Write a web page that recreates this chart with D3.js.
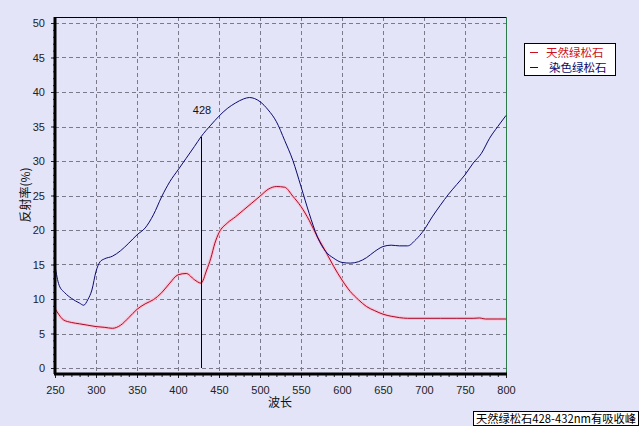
<!DOCTYPE html>
<html><head><meta charset="utf-8">
<script src="https://cdn.jsdelivr.net/npm/d3@7"></script>
<style>
html,body{margin:0;padding:0;background:#e4e4f9;}
svg{display:block;}
</style></head>
<body>
<svg id="c" width="639" height="426"></svg>
<script>
const seriesNames = ["天然绿松石", "染色绿松石"];
const naturalWl = [250,255,260,270,280,290,300,310,320,330,340,350,360,370,380,390,400,410,420,428,435,440,445,450,460,470,480,490,500,510,520,530,540,550,560,570,580,590,600,610,620,630,640,650,660,670,680,700,720,740,760,768,772,775,790,800];
const naturalVal = [8.6,7.7,7.0,6.6,6.4,6.2,6.0,5.9,5.75,6.2,7.3,8.5,9.3,9.9,10.9,12.3,13.5,13.7,12.8,12.3,14.2,15.9,18.1,19.6,21.0,21.9,22.9,23.9,24.9,25.9,26.3,26.2,24.9,23.4,21.4,19.0,16.9,14.7,12.75,11.1,9.9,8.9,8.3,7.8,7.5,7.3,7.2,7.2,7.2,7.2,7.2,7.25,7.15,7.1,7.1,7.1];
const dyedWl = [250,255,262,270,280,285,290,295,300,305,310,320,330,340,350,360,370,380,390,400,410,420,428,440,450,460,470,480,487,500,510,520,530,540,550,560,570,580,590,600,610,620,630,640,650,660,670,680,690,700,710,720,730,740,750,760,770,780,790,800];
const dyedVal = [14.8,12.0,10.9,10.1,9.4,9.1,9.9,11.3,14.0,15.4,15.8,16.2,17.0,18.1,19.3,20.3,22.2,24.8,27.0,28.7,30.4,32.1,33.5,35.2,36.5,37.6,38.4,39.0,39.2,38.6,37.4,35.7,33.0,30.1,26.3,22.4,19.0,16.9,15.9,15.3,15.2,15.4,16.0,16.9,17.6,17.8,17.7,17.7,18.6,20.0,21.9,23.6,25.2,26.6,28.0,29.7,31.1,33.3,35.0,36.6];
const xTicks = [250,300,350,400,450,500,550,600,650,700,750,800];
const yTicks = [0,5,10,15,20,25,30,35,40,45,50];
const markerWl = 428;
const markerVal = 33.5;
const xLabel = "波长";
const yLabel = "反射率(%)";
const note = "天然绿松石428-432nm有吸收峰";

const svg = d3.select("#c");
const L = 55, R = 506, T = 17, B = 374;
const x = d3.scaleLinear().domain([250, 800]).range([L, R]);
const y = d3.scaleLinear().domain([0, 50]).range([368, 23]);

svg.append("rect").attr("width",639).attr("height",426).attr("fill","#e4e4f9");

// grid
const g = svg.append("g");
g.selectAll("line.h").data(yTicks).join("line")
  .attr("x1", L).attr("x2", R).attr("y1", d=>Math.round(y(d))+0.5).attr("y2", d=>Math.round(y(d))+0.5)
  .attr("stroke","#7a7a8a").attr("stroke-dasharray","4,3");
g.selectAll("line.v").data(xTicks.slice(1,-1)).join("line")
  .attr("y1", T).attr("y2", B).attr("x1", d=>Math.round(x(d))+0.5).attr("x2", d=>Math.round(x(d))+0.5)
  .attr("stroke","#7a7a8a").attr("stroke-dasharray","4,3");

// borders
svg.append("line").attr("x1",L).attr("x2",R).attr("y1",T+0.5).attr("y2",T+0.5).attr("stroke","#000");
svg.append("line").attr("x1",R+0.5).attr("x2",R+0.5).attr("y1",T).attr("y2",B).attr("stroke","#2a7a4a");

// lines
const lineGen = d3.line().x(d=>x(d[0])).y(d=>y(d[1])).curve(d3.curveMonotoneX);
const nat = naturalWl.map((w,i)=>[w,naturalVal[i]]);
const dye = dyedWl.map((w,i)=>[w,dyedVal[i]]);
svg.append("path").attr("d",lineGen(nat)).attr("fill","none").attr("stroke","#f9c2d2").attr("stroke-width",3.2);
svg.append("path").attr("d",lineGen(nat)).attr("fill","none").attr("stroke","#a80a2c").attr("stroke-width",1);
svg.append("path").attr("d",lineGen(dye)).attr("fill","none").attr("stroke","#0a0a70").attr("stroke-width",1);

// marker
svg.append("line").attr("x1",Math.round(x(markerWl))+0.5).attr("x2",Math.round(x(markerWl))+0.5)
  .attr("y1",y(0)).attr("y2",y(markerVal)).attr("stroke","#000");
svg.append("text").attr("x",x(markerWl)+1).attr("y",114).attr("text-anchor","middle")
  .attr("font-family","Liberation Sans, Arial, sans-serif").attr("font-size",11).attr("fill","#111").text(markerWl);

// axes
const xAxis = d3.axisBottom(x).tickValues(d3.range(250,801,10)).tickSize(3).tickFormat("");
const xa = svg.append("g").attr("transform",`translate(0,${B})`).call(xAxis);
xa.select(".domain").remove();
xa.selectAll("line").attr("stroke","#222");
const xa2 = svg.append("g").attr("transform",`translate(0,${B})`).call(d3.axisBottom(x).tickValues(xTicks).tickSize(4).tickPadding(8));
xa2.select(".domain").remove();
xa2.selectAll("line").attr("stroke","#222");
xa2.selectAll("text").attr("font-family","Liberation Sans, Arial, sans-serif").attr("font-size",11).attr("fill","#222");

const ya = svg.append("g").attr("transform",`translate(${L},0)`).call(d3.axisLeft(y).tickValues(d3.range(0,51,1)).tickSize(2).tickFormat(""));
ya.select(".domain").remove();
ya.selectAll("line").attr("stroke","#333");
const ya2 = svg.append("g").attr("transform",`translate(${L},0)`).call(d3.axisLeft(y).tickValues(yTicks).tickSize(4).tickPadding(6));
ya2.select(".domain").remove();
ya2.selectAll("line").attr("stroke","#222");
ya2.selectAll("text").attr("font-family","Liberation Sans, Arial, sans-serif").attr("font-size",11).attr("fill","#222");

svg.append("line").attr("x1",L-1).attr("x2",R+1).attr("y1",B).attr("y2",B).attr("stroke","#000").attr("stroke-width",3);
svg.append("line").attr("x1",L).attr("x2",L).attr("y1",T).attr("y2",B).attr("stroke","#000").attr("stroke-width",3);

// axis labels
svg.append("text").attr("x",280).attr("y",407).attr("text-anchor","middle")
  .attr("font-family","Noto Sans CJK SC").attr("font-size",12).attr("fill","#111").text(xLabel);
svg.append("text").attr("transform","translate(30,195) rotate(-90)").attr("text-anchor","middle")
  .attr("font-family","Noto Sans CJK SC").attr("font-size",12).attr("fill","#111").text(yLabel);

// legend
const lg = svg.append("g");
lg.append("rect").attr("x",524.5).attr("y",43.5).attr("width",91).attr("height",32).attr("fill","#fff").attr("stroke","#000");
const colors = ["#cc1020","#0a0a70"];
seriesNames.forEach((n,i)=>{
  const yy = 52 + i*15;
  lg.append("line").attr("x1",530).attr("x2",538).attr("y1",yy+0.5).attr("y2",yy+0.5).attr("stroke",colors[i]);
  lg.append("text").attr("x",i===0?546:549).attr("y",yy+4.5).attr("font-family","Noto Sans CJK SC").attr("font-size",11.5).attr("fill",colors[i]).text(n);
});

// note
svg.append("rect").attr("x",473.5).attr("y",411.5).attr("width",165).attr("height",14).attr("fill","#fff").attr("stroke","#000");
svg.append("text").attr("x",556).attr("y",422.5).attr("text-anchor","middle").attr("textLength",160).attr("lengthAdjust","spacingAndGlyphs")
  .attr("font-family","Noto Sans CJK SC").attr("font-size",11.5).attr("fill","#000").text(note);
</script>
</body></html>
